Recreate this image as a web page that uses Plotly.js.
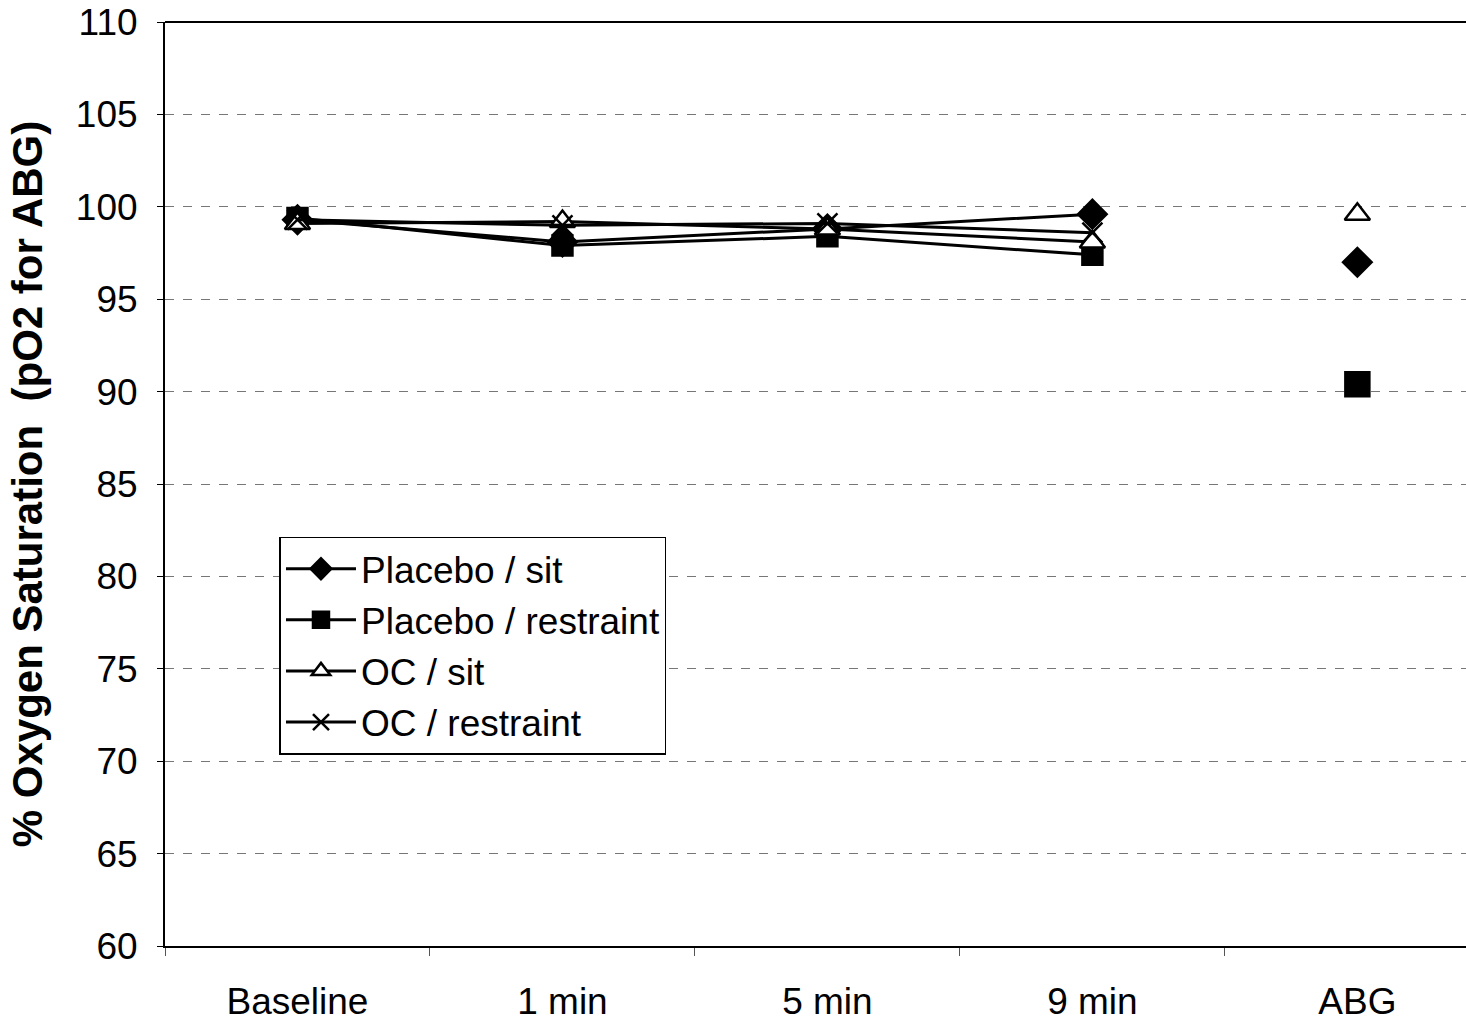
<!DOCTYPE html>
<html><head><meta charset="utf-8">
<script src="https://cdn.plot.ly/plotly-3.0.1.min.js"></script>
<style>body{margin:0;background:#fff}#c{width:1466px;height:1021px}</style>
</head><body><div id="c"></div>
<script>
const categories = ["Baseline", "1 min", "5 min", "9 min", "ABG"];
const placeboSit = [99.3, 98.1, 98.8, 99.6, 97.0];
const placeboRestraint = [99.4, 97.9, 98.4, 97.4, 90.4];
const ocSit = [99.1, 99.2, 98.8, 98.1, 99.6];
const ocRestraint = [99.3, 99.0, 99.1, 98.6, 90.3];
const seriesNames = ["Placebo / sit", "Placebo / restraint", "OC / sit", "OC / restraint"];

function mk(name, vals, symbol, size, fill){
  return {
    x: categories.slice(0,4), y: vals.slice(0,4), name: name, type: 'scatter', mode: 'lines+markers',
    line: {color: '#000', width: 3},
    marker: {symbol: symbol, size: size, color: fill, line: {color: '#000', width: 2.5}},
    legendgroup: name
  };
}
function abg(name, vals, symbol, size, fill){
  return {
    x: [categories[4]], y: [vals[4]], name: name, type: 'scatter', mode: 'markers', showlegend: false,
    marker: {symbol: symbol, size: size, color: fill, line: {color: '#000', width: 2.5}},
    legendgroup: name
  };
}
const data = [
  abg(seriesNames[3], ocRestraint, 'x-thin-open', 20, '#000'),
  mk(seriesNames[0], placeboSit, 'diamond', 22, '#000'),
  mk(seriesNames[1], placeboRestraint, 'square', 20, '#000'),
  mk(seriesNames[2], ocSit, 'triangle-up', 22, '#fff'),
  mk(seriesNames[3], ocRestraint, 'x-thin-open', 20, '#000'),
  abg(seriesNames[0], placeboSit, 'diamond', 22, '#000'),
  abg(seriesNames[1], placeboRestraint, 'square', 24, '#000'),
  abg(seriesNames[2], ocSit, 'triangle-up', 22, '#fff')
];
const layout = {
  width: 1466, height: 1021,
  margin: {l: 165, r: 0, t: 22, b: 75},
  paper_bgcolor: '#fff', plot_bgcolor: '#fff',
  font: {family: 'Liberation Sans, Arial, sans-serif', color: '#000', size: 36},
  showlegend: true,
  legend: {x: 0.088, y: 0.443, xanchor: 'left', yanchor: 'top', bgcolor: '#fff',
           bordercolor: '#000', borderwidth: 1.5, font: {size: 37}, traceorder: 'normal',
           itemwidth: 70, tracegroupgap: 0},
  xaxis: {type: 'category', categoryorder: 'array', categoryarray: categories,
          range: [-0.5, 4.41], showgrid: false, showline: true, linecolor: '#000', linewidth: 2,
          ticks: 'outside', tickson: 'boundaries', ticklen: 8, tickcolor: '#555',
          ticklabelstandoff: 22, tickfont: {size: 37}, zeroline: false, mirror: false},
  yaxis: {range: [60, 110], dtick: 5, tick0: 60, showline: true, linecolor: '#000', linewidth: 2,
          ticks: 'outside', ticklen: 6, tickcolor: '#000', tickfont: {size: 37}, ticklabelstandoff: 12,
          showgrid: true, gridcolor: '#777', gridwidth: 1, griddash: 'dash', zeroline: false,
          title: {text: '<b>% Oxygen Saturation  (pO2 for ABG)</b>', font: {size: 42}, standoff: 20}},
  shapes: [{type: 'line', xref: 'paper', yref: 'paper', x0: 0, x1: 1, y0: 1, y1: 1,
            line: {color: '#000', width: 2}}]
};
Plotly.newPlot('c', data, layout, {displayModeBar: false, staticPlot: true});
</script></body></html>
